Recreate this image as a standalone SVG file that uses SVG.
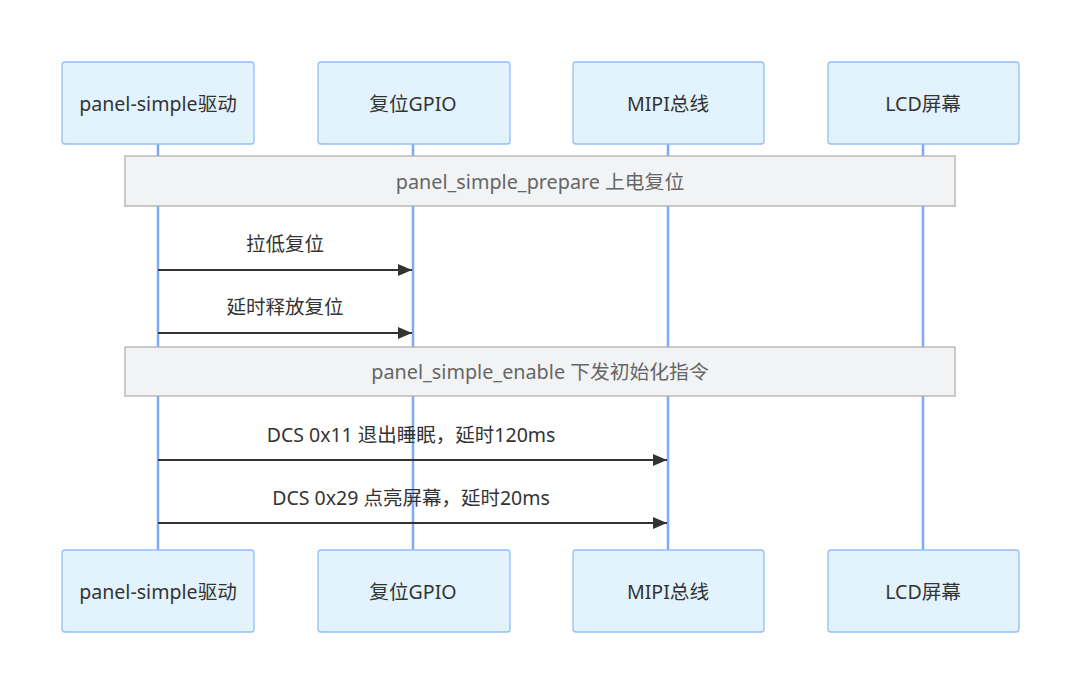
<svg xmlns="http://www.w3.org/2000/svg" width="1080" height="694" viewBox="0 0 1080 694">
<style>
.actor{fill:#e3f3fd;stroke:#90bff9;stroke-width:1.3}
.atext{font-family:"Noto Sans","Noto Sans CJK SC",sans-serif;font-size:19.6px;fill:#333;text-anchor:middle;dominant-baseline:central}
.life{stroke:#7baaf7;stroke-width:2.5}
.note{fill:#f2f3f5;stroke:#b0b0b0;stroke-width:1.3}
.ntext{font-family:"Noto Sans","Noto Sans CJK SC",sans-serif;font-size:19.8px;fill:#666;text-anchor:middle;dominant-baseline:central}
.msg{stroke:#333;stroke-width:2;fill:none;marker-end:url(#arr)}
.mtext{font-family:"Noto Sans","Noto Sans CJK SC",sans-serif;font-size:19.5px;fill:#333;text-anchor:middle;dominant-baseline:central}
</style>
<defs>
<marker id="arr" viewBox="0 0 14 12" refX="14" refY="6" markerWidth="14" markerHeight="12" markerUnits="userSpaceOnUse" orient="auto">
<path d="M0,0 L14,6 L0,12 z" fill="#333"/>
</marker>
</defs>
<rect width="1080" height="694" fill="#fff"/>
<g id="lifelines">
<line class="life" x1="158" y1="144" x2="158" y2="550"/>
<line class="life" x1="413" y1="144" x2="413" y2="550"/>
<line class="life" x1="668" y1="144" x2="668" y2="550"/>
<line class="life" x1="923" y1="144" x2="923" y2="550"/>
</g>
<g id="actor-driver-top"><rect class="actor" x="62" y="62" width="192" height="82" rx="3"/><text class="atext" x="158" y="103">panel-simple驱动</text></g>
<g id="actor-gpio-top"><rect class="actor" x="318" y="62" width="192" height="82" rx="3"/><text class="atext" x="413" y="103">复位GPIO</text></g>
<g id="actor-mipi-top"><rect class="actor" x="573" y="62" width="191" height="82" rx="3"/><text class="atext" x="668" y="103">MIPI总线</text></g>
<g id="actor-lcd-top"><rect class="actor" x="828" y="62" width="191" height="82" rx="3"/><text class="atext" x="923" y="103">LCD屏幕</text></g>
<g id="note1"><rect class="note" x="125" y="156" width="830" height="50"/><text class="ntext" x="540" y="181">panel_simple_prepare 上电复位</text></g>
<g id="note2"><rect class="note" x="125" y="347" width="830" height="49"/><text class="ntext" x="540" y="371">panel_simple_enable 下发初始化指令</text></g>
<g id="connectors">
<line class="msg" x1="158" y1="270" x2="412" y2="270"/>
<text class="mtext" x="285" y="243">拉低复位</text>
<line class="msg" x1="158" y1="333" x2="412" y2="333"/>
<text class="mtext" x="285" y="306">延时释放复位</text>
<line class="msg" x1="158" y1="460" x2="667" y2="460"/>
<text class="mtext" x="411" y="434">DCS 0x11 退出睡眠，延时120ms</text>
<line class="msg" x1="158" y1="523" x2="667" y2="523"/>
<text class="mtext" x="411" y="497">DCS 0x29 点亮屏幕，延时20ms</text>
</g>
<g id="actor-driver-bottom"><rect class="actor" x="62" y="550" width="192" height="82" rx="3"/><text class="atext" x="158" y="591">panel-simple驱动</text></g>
<g id="actor-gpio-bottom"><rect class="actor" x="318" y="550" width="192" height="82" rx="3"/><text class="atext" x="413" y="591">复位GPIO</text></g>
<g id="actor-mipi-bottom"><rect class="actor" x="573" y="550" width="191" height="82" rx="3"/><text class="atext" x="668" y="591">MIPI总线</text></g>
<g id="actor-lcd-bottom"><rect class="actor" x="828" y="550" width="191" height="82" rx="3"/><text class="atext" x="923" y="591">LCD屏幕</text></g>
</svg>
